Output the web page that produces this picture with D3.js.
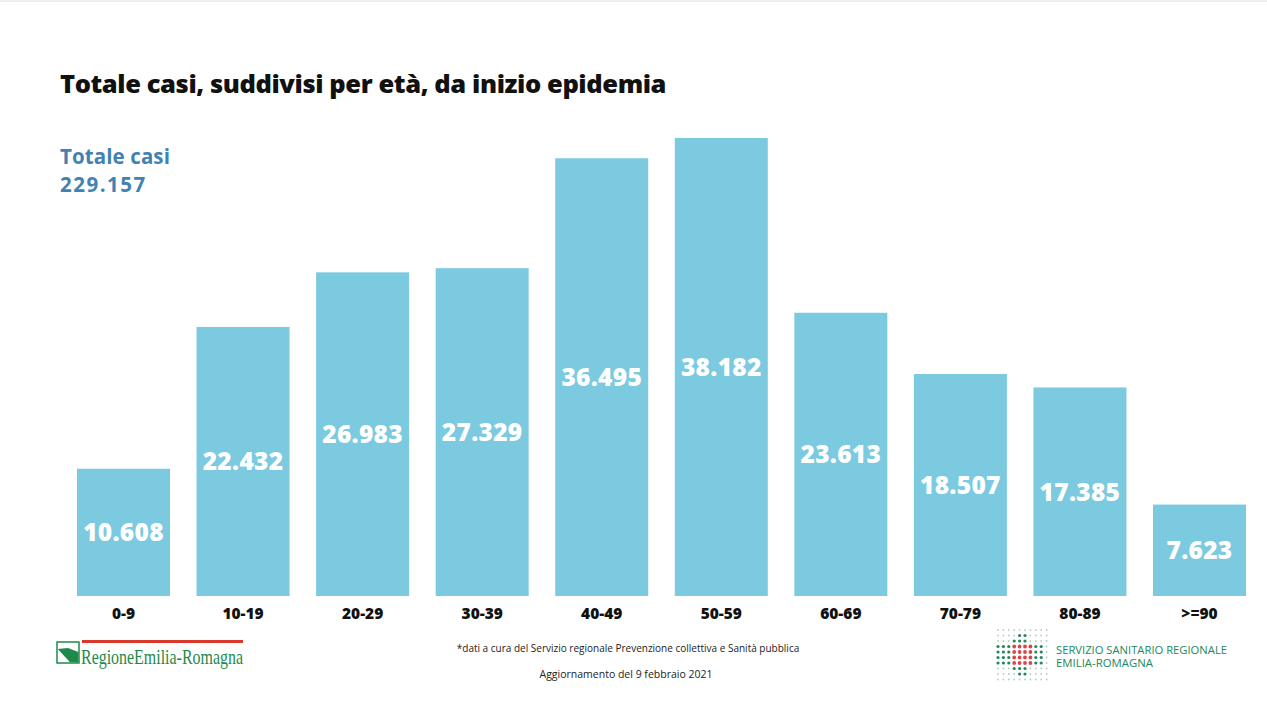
<!DOCTYPE html>
<html>
<head>
<meta charset="utf-8">
<script src="https://cdn.jsdelivr.net/npm/d3@7"></script>
<style>
  html, body { margin: 0; padding: 0; background: #fff; }
  svg { display: block; }
</style>
</head>
<body>
<svg id="chart" width="1267" height="714"></svg>
<script>
const categories = ["0-9", "10-19", "20-29", "30-39", "40-49", "50-59", "60-69", "70-79", "80-89", ">=90"];
const values = [10608, 22432, 26983, 27329, 36495, 38182, 23613, 18507, 17385, 7623];
const totalLabel = "Totale casi";
const totalValue = "229.157";
const title = "Totale casi, suddivisi per età, da inizio epidemia";
const footnote = "*dati a cura del Servizio regionale Prevenzione collettiva e Sanità pubblica";
const updated = "Aggiornamento del 9 febbraio 2021";

const svg = d3.select("#chart");
const fmt = v => d3.format(",")(v).replace(/,/g, ".");

const x = d3.scaleBand().domain(categories).range([77, 1246]).paddingInner(0.222).paddingOuter(0);
const y = d3.scaleLinear().domain([0, 38182]).range([596, 138]);

svg.append("rect").attr("x", 0).attr("y", 0).attr("width", 1267).attr("height", 2).attr("fill", "#eeeeee");

svg.append("text").attr("x", 60).attr("y", 93)
  .attr("font-family", "'Open Sans', sans-serif").attr("font-weight", 800)
  .attr("font-size", 25.5).attr("fill", "#111").attr("letter-spacing", -0.4).text(title);

svg.append("text").attr("x", 60).attr("y", 164)
  .attr("font-family", "'Open Sans', sans-serif").attr("font-weight", 700)
  .attr("font-size", 20.5).attr("fill", "#3f82b3").attr("letter-spacing", 0.1).text(totalLabel);
svg.append("text").attr("x", 60).attr("y", 192)
  .attr("font-family", "'Open Sans', sans-serif").attr("font-weight", 700)
  .attr("font-size", 20.5).attr("fill", "#3f82b3").attr("letter-spacing", 1.5).text(totalValue);

const g = svg.append("g");
g.selectAll("rect.bar").data(values).join("rect").attr("class", "bar")
  .attr("x", (d, i) => x(categories[i])).attr("width", x.bandwidth())
  .attr("y", d => y(d)).attr("height", d => y(0) - y(d))
  .attr("fill", "#7ccae0");

g.selectAll("text.val").data(values).join("text").attr("class", "val")
  .attr("x", (d, i) => x(categories[i]) + x.bandwidth() / 2)
  .attr("y", d => (y(d) + y(0)) / 2 + 9)
  .attr("text-anchor", "middle")
  .attr("font-family", "'Open Sans', sans-serif").attr("font-weight", 800)
  .attr("font-size", 24.5).attr("fill", "#fff").attr("letter-spacing", 0.3).text(d => fmt(d));

const xAxis = d3.axisBottom(x).tickSize(0).tickPadding(0);
const ax = svg.append("g").attr("transform", "translate(0,606)").call(xAxis);
ax.select(".domain").remove();
ax.selectAll("text").attr("font-family", "'Open Sans', sans-serif").attr("font-weight", 800)
  .attr("font-size", 15.5).attr("fill", "#111").attr("dy", "0.85em");

// footer texts
svg.append("text").attr("x", 628).attr("y", 652).attr("text-anchor", "middle")
  .attr("font-family", "'Open Sans', sans-serif").attr("font-size", 10).attr("fill", "#222").text(footnote);
svg.append("text").attr("x", 626).attr("y", 678).attr("text-anchor", "middle")
  .attr("font-family", "'Open Sans', sans-serif").attr("font-size", 10.5).attr("fill", "#222").text(updated);

// Left logo: Regione Emilia-Romagna
const L = svg.append("g");
L.append("rect").attr("x", 82).attr("y", 640).attr("width", 161).attr("height", 3).attr("fill", "#d9392b");
L.append("rect").attr("x", 57).attr("y", 642).attr("width", 22).attr("height", 21).attr("fill", "#fff").attr("stroke", "#1e8a4a").attr("stroke-width", 1.5);
L.append("path").attr("d", "M57.8,649 L68,648 L78.3,652 L78.3,662.3 L70,662.3 Z").attr("fill", "#1e8a4a");
L.append("text").attr("x", 81).attr("y", 664)
  .attr("font-family", "'Liberation Serif', serif").attr("font-size", 22).attr("fill", "#1e8a4a")
  .attr("textLength", 162).attr("lengthAdjust", "spacingAndGlyphs").text("RegioneEmilia-Romagna");

// Right logo: Servizio Sanitario Regionale dot grid
const R = svg.append("g");
const greenCells = new Set(["1,4","1,5","2,3","2,4","2,5","7,3","7,4","7,5","8,4","8,5"]);
for (let r = 0; r < 10; r++) {
  for (let c = 0; c < 10; c++) {
    let fill = "#b9ccc4", rad = 0.9;
    const key = r + "," + c;
    if (r >= 3 && r <= 6) {
      if (c >= 3 && c <= 6) { fill = "#d9464a"; rad = 1.9; }
      else if (c >= 0 && c <= 8) { fill = "#23875a"; rad = 1.6; }
    } else if (greenCells.has(key)) { fill = "#23875a"; rad = 1.6; }
    R.append("circle").attr("cx", 998 + c * 5.4).attr("cy", 630 + r * 5.5).attr("r", rad).attr("fill", fill);
  }
}
R.append("text").attr("x", 1056).attr("y", 654)
  .attr("font-family", "'Open Sans', sans-serif").attr("font-size", 11).attr("fill", "#23875a")
  .attr("textLength", 171).attr("lengthAdjust", "spacingAndGlyphs").text("SERVIZIO SANITARIO REGIONALE");
R.append("text").attr("x", 1056).attr("y", 667)
  .attr("font-family", "'Open Sans', sans-serif").attr("font-size", 11).attr("fill", "#23875a")
  .attr("textLength", 97).attr("lengthAdjust", "spacingAndGlyphs").text("EMILIA-ROMAGNA");
</script>
</body>
</html>
